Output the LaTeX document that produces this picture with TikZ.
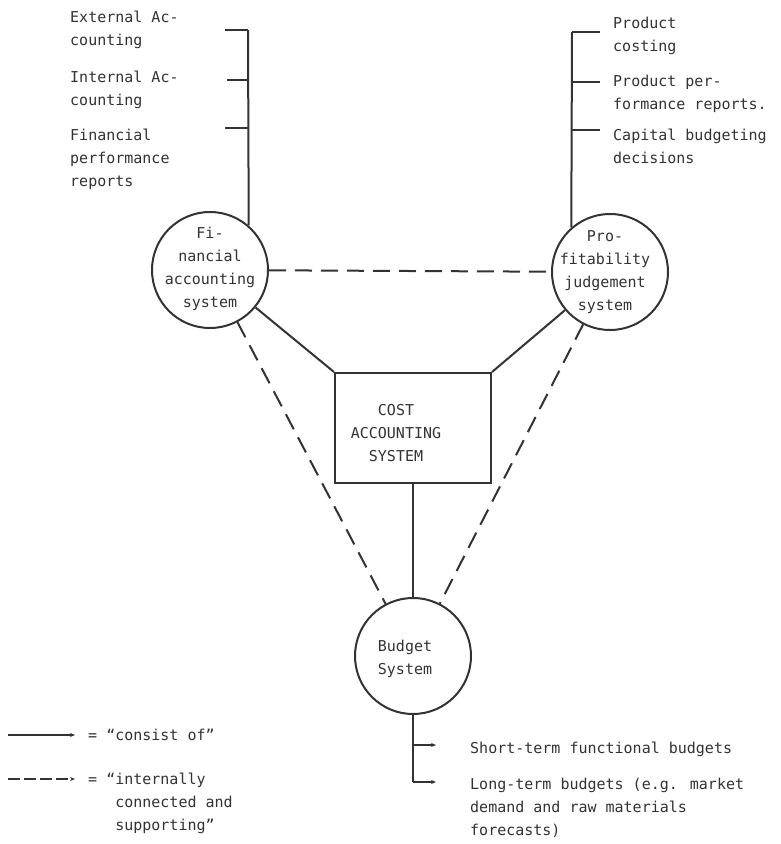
\documentclass[tikz,border=0pt]{standalone}
\usepackage{fontspec}
\newfontfamily\dmono{DejaVu Sans Mono}
\usetikzlibrary{arrows.meta}
\definecolor{ink}{HTML}{333333}
\begin{document}
\begin{tikzpicture}[x=1pt,y=-1pt,
  every node/.style={font=\dmono\fontsize{15}{23}\selectfont, text=ink, inner sep=0pt},
  conn/.style={draw=ink, line width=2pt},
  supp/.style={draw=ink, line width=2pt, dash pattern=on 17pt off 9pt},
  sys/.style={circle, draw=ink, line width=2pt, minimum size=116pt},
  box/.style={rectangle, draw=ink, line width=2pt, minimum width=156pt, minimum height=110pt},
  lbl/.style={align=left, anchor=north west},
  ctr/.style={align=center},
  tip/.style={-{Stealth[length=5pt,width=4pt]}}]
\useasboundingbox (0,0) rectangle (780,844);
\fill[white] (0,0) rectangle (780,844);

% systems
\node[sys] (fin) at (210,270) {};
\node[sys] (prof) at (610,272) {};
\node[box] (cost) at (413,428) {};
\node[sys] (bud) at (413,656) {};

\node[ctr] (fintxt) at (210,268) {\strut Fi-\\nancial\\accounting\\system\strut};
\node[ctr] (proftxt) at (605,271) {\strut Pro-\\fitability\\judgement\\system\strut};
\node[ctr] (costtxt) at (396,434) {\strut COST\\ACCOUNTING\\SYSTEM\strut};
\node[ctr] (budtxt) at (405,658) {\strut Budget\\System\strut};

% connections
\draw[supp] (fin) -- (prof);
\draw[supp] (fin) -- (bud);
\draw[supp] (prof) -- (bud);
\draw[conn] (fin) -- (cost.north west);
\draw[conn] (prof) -- (cost.north east);
\draw[conn] (cost) -- (bud);

% left bracket
\coordinate (lv) at (248,30);
\coordinate (lt1) at (225,30);
\coordinate (lt2) at (227,80);
\coordinate (lt3) at (225,128);
\draw[conn] (lv) -- (fin.49);
\draw[conn] (lt1) -- (lv);
\draw[conn] (lt2) -- (lt2 -| lv);
\draw[conn] (lt3) -- (lt3 -| lv);
\node[lbl] (ext) at (70,5.9) {\strut External Ac-\\counting};
\node[lbl] (int) at (70,65.9) {\strut Internal Ac-\\counting};
\node[lbl] (fpr) at (70,123.9) {\strut Financial\\performance\\reports};

% right bracket
\coordinate (rv) at (572,32);
\coordinate (rt1) at (600,32);
\coordinate (rt2) at (600,82);
\coordinate (rt3) at (600,130);
\draw[conn] (rv) -- (prof.131);
\draw[conn] (rv) -- (rt1);
\draw[conn] (rt2 -| rv) -- (rt2);
\draw[conn] (rt3 -| rv) -- (rt3);
\node[lbl] (pc) at (613,11.9) {\strut Product\\costing};
\node[lbl] (ppr) at (613,69.9) {\strut Product per-\\formance reports.};
\node[lbl] (cbd) at (613,123.9) {\strut Capital budgeting\\decisions};

% budget bracket
\coordinate (bv) at (413,782);
\coordinate (bt1) at (436,745);
\coordinate (bt2) at (436,782);
\draw[conn] (bud.south) -- (bv);
\draw[conn,tip] (bt1 -| bv) -- (bt1);
\draw[conn,tip] (bv) -- (bt2);
\node[lbl] (stb) at (470,736.9) {\strut Short-term functional budgets};
\node[lbl] (ltb) at (470,772.9) {\strut Long-term budgets (e.g. market\\demand and raw materials\\forecasts)};

% legend
\coordinate (la1) at (8,735);
\coordinate (la2) at (75,735);
\coordinate (lb1) at (8,779);
\coordinate (lb2) at (75,779);
\draw[conn,tip] (la1) -- (la2);
\draw[conn,tip,dash pattern=on 12pt off 4pt] (lb1) -- (lb2);
\node[lbl] (lga) at (88,723.9) {\strut = “consist of”};
\node[lbl] (lgb) at (88,767.9) {\strut = “internally\\\phantom{= “}connected and\\\phantom{= “}supporting”};
\end{tikzpicture}
\end{document}
